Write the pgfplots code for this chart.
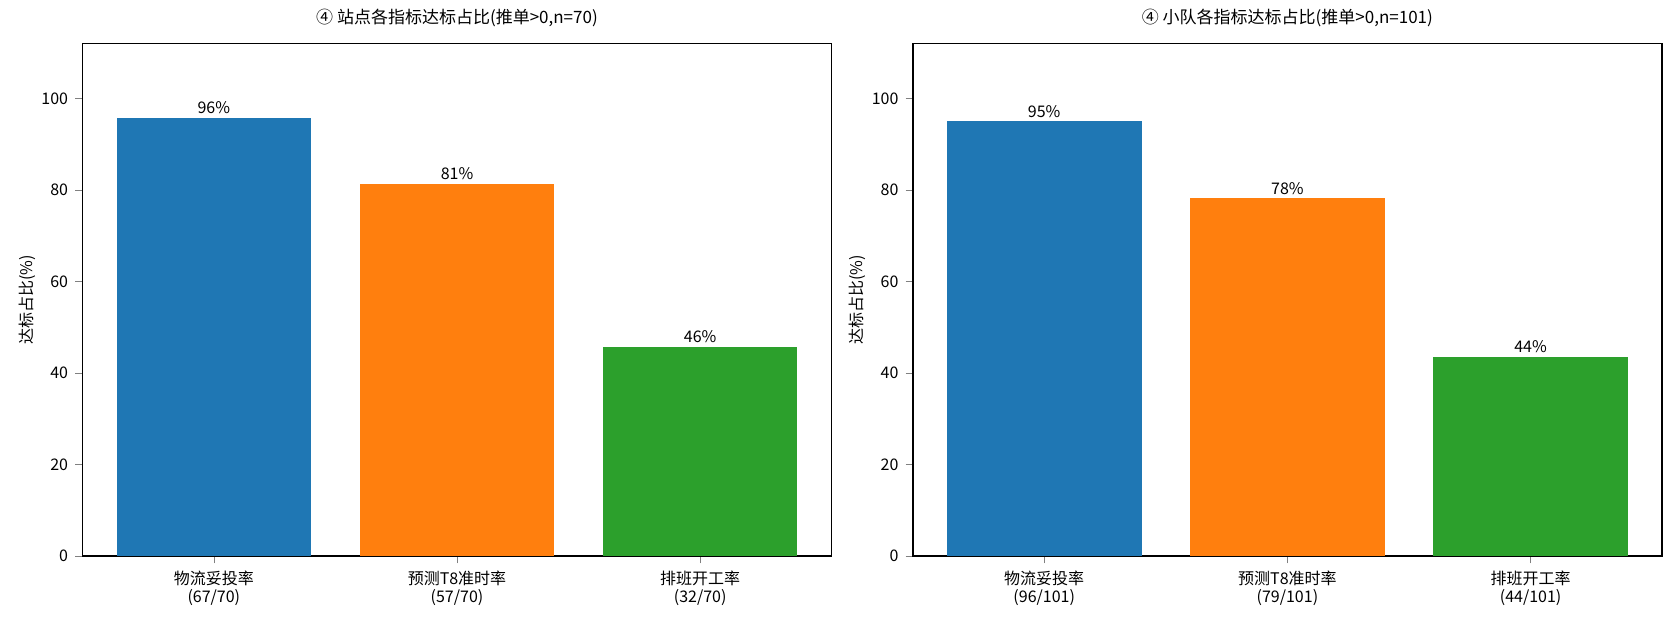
\documentclass[border=0pt]{standalone}
\usepackage{pgfplots}
\pgfplotsset{compat=1.18}
\usepackage{fontspec}
\setmainfont{Noto Sans CJK SC}
\definecolor{c0}{HTML}{1F77B4}
\definecolor{c1}{HTML}{FF7F0E}
\definecolor{c2}{HTML}{2CA02C}
\pgfplotsset{
  mybar/.style={
    scale only axis, width=374.5pt, height=256.1pt,
    xmin=-0.54, xmax=2.54, ymin=0, ymax=112,
    xtick={0,1,2}, ytick={0,20,40,60,80,100},
    tick align=outside, xtick pos=left, ytick pos=left,
    major tick length=3.7pt,
    /pgf/number format/assume math mode=true,
    tick label style={font=\fontsize{8}{9}\selectfont},
    xticklabel style={align=center},
    ylabel style={font=\fontsize{8}{9}\selectfont},
    ylabel shift=-4pt,
    title style={font=\fontsize{8.5}{9.5}\selectfont, yshift=-1pt},
    ylabel={达标占比(\%)},
    ybar, bar width=0.8, bar shift=0pt,
    nodes near coords={\pgfmathprintnumber[fixed,precision=0]{\pgfplotspointmeta}\%},
    every node near coord/.append style={font=\fontsize{8}{9}\selectfont, black, yshift=-1.5pt},
    axis line style={line width=0.6pt},
  }
}
\begin{document}
\begin{tikzpicture}
\path[use as bounding box] (-41.25pt,-34pt) rectangle (798.75pt,278pt);
\begin{axis}[mybar, at={(0pt,0pt)}, anchor=south west,
  title={④ 站点各指标达标占比(推单>0,n=70)},
  xticklabels={{物流妥投率\\(67/70)},{预测T8准时率\\(57/70)},{排班开工率\\(32/70)}}]
\addplot[fill=c0, draw=none] coordinates {(0,95.714)};
\addplot[fill=c1, draw=none] coordinates {(1,81.429)};
\addplot[fill=c2, draw=none] coordinates {(2,45.714)};
\end{axis}
\begin{axis}[mybar, at={(415.2pt,0pt)}, anchor=south west,
  title={④ 小队各指标达标占比(推单>0,n=101)},
  xticklabels={{物流妥投率\\(96/101)},{预测T8准时率\\(79/101)},{排班开工率\\(44/101)}}]
\addplot[fill=c0, draw=none] coordinates {(0,95.050)};
\addplot[fill=c1, draw=none] coordinates {(1,78.218)};
\addplot[fill=c2, draw=none] coordinates {(2,43.564)};
\end{axis}
\end{tikzpicture}
\end{document}
